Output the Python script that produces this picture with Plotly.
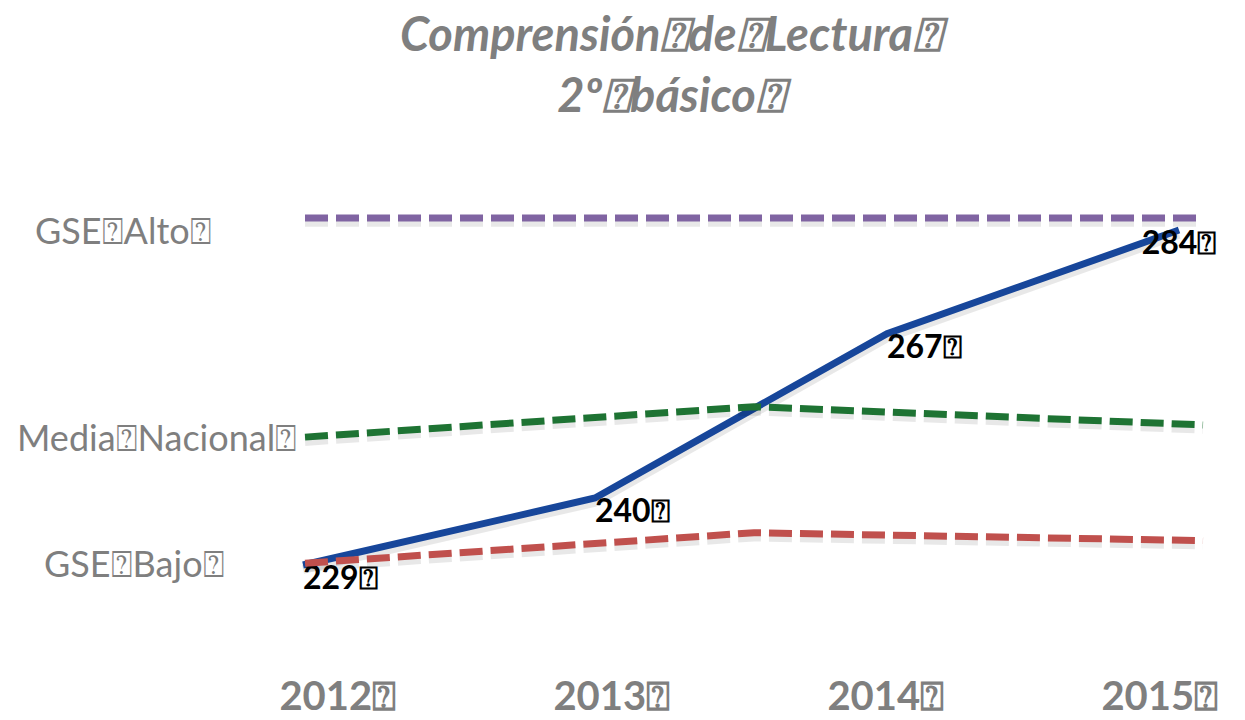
import plotly.graph_objects as go

BOX = "\u2370"

# ---- data ----
years = [2012, 2013, 2014, 2015]
year_labels = ["2012", "2013", "2014", "2015"]
school_scores = [229, 240, 267, 284]

ref_points = [0, 1, 2]
gse_alto = [286, 286, 286]
media_nacional = [250, 255, 252]
gse_bajo = [229.3, 234.3, 233]

ref_names = ["GSE Alto", "Media Nacional", "GSE Bajo"]
ref_series = [gse_alto, media_nacional, gse_bajo]
ref_colors = ["#8064a2", "#1e7333", "#c0504d"]
label_right = [0.172, 0.240, 0.182]
label_shift = [-12, 0, 0]

title_lines = ["Comprensión de Lectura", "2º básico"]

GRAY = "#7f7f7f"
BLUE = "#17469a"
FONT = "Lato"

def boxed(s):
    return s.replace(" ", BOX) + BOX

fig = go.Figure()

# shadows
for vals in ref_series:
    fig.add_trace(go.Scatter(
        x=ref_points, y=[v - 0.7 for v in vals], xaxis="x2", mode="lines",
        line=dict(color="rgba(0,0,0,0.09)", width=9, dash="23px,8px"),
        hoverinfo="skip", showlegend=False))
fig.add_trace(go.Scatter(
    x=years, y=[v - 0.7 for v in school_scores], mode="lines",
    line=dict(color="rgba(0,0,0,0.09)", width=9),
    hoverinfo="skip", showlegend=False))

# reference dashed lines
for name, vals, col in zip(ref_names, ref_series, ref_colors):
    fig.add_trace(go.Scatter(
        x=ref_points, y=vals, xaxis="x2", mode="lines", name=name,
        line=dict(color=col, width=7, dash="23px,8px"),
        showlegend=False))

# school line
fig.add_trace(go.Scatter(
    x=years, y=school_scores, mode="lines+text", name="Colegio",
    line=dict(color=BLUE, width=7),
    text=[boxed(str(v)) for v in school_scores],
    textposition=["bottom right", "bottom right", "bottom right", "bottom center"],
    textfont=dict(family=FONT, size=32, color="#000000", weight="bold"),
    showlegend=False))

# dummy trace for year axis
fig.add_trace(go.Scatter(
    x=year_labels, y=[None] * len(year_labels), xaxis="x3", mode="lines",
    showlegend=False, hoverinfo="skip"))

# left labels
for name, vals, xr, sh in zip(ref_names, ref_series, label_right, label_shift):
    fig.add_annotation(
        x=xr, xref="paper", y=vals[0], yref="y", yshift=sh,
        text=boxed(name), showarrow=False, xanchor="right", yanchor="middle",
        font=dict(family=FONT, size=36, color=GRAY))

# title
fig.add_annotation(
    x=0.542, xref="paper", y=1, yref="paper", yanchor="top", yshift=-3,
    text="<br>".join(boxed(t) for t in title_lines), showarrow=False,
    align="center",
    font=dict(family=FONT, size=47, color=GRAY, style="italic", weight="bold"))

fig.update_layout(
    width=1245, height=720,
    margin=dict(l=0, r=0, t=0, b=0, autoexpand=False),
    paper_bgcolor="white", plot_bgcolor="white",
    xaxis=dict(range=[2010.9623, 2015.226], visible=False, automargin=False),
    xaxis2=dict(range=[-0.6793, 2.0935], overlaying="x", visible=False, automargin=False),
    xaxis3=dict(
        overlaying="x", anchor="free", position=0.071, side="bottom",
        type="category", range=[-1.233, 3.311], automargin=False,
        tickvals=year_labels, ticktext=[boxed(y) for y in year_labels],
        showgrid=False, showline=False, zeroline=False, ticks="",
        tickfont=dict(family=FONT, size=40, color=GRAY, weight="bold")),
    yaxis=dict(range=[203.55, 321.78], visible=False, automargin=False),
)

fig.write_html("out.html", config={"displayModeBar": False},
               post_script="document.body.style.margin='0';")
